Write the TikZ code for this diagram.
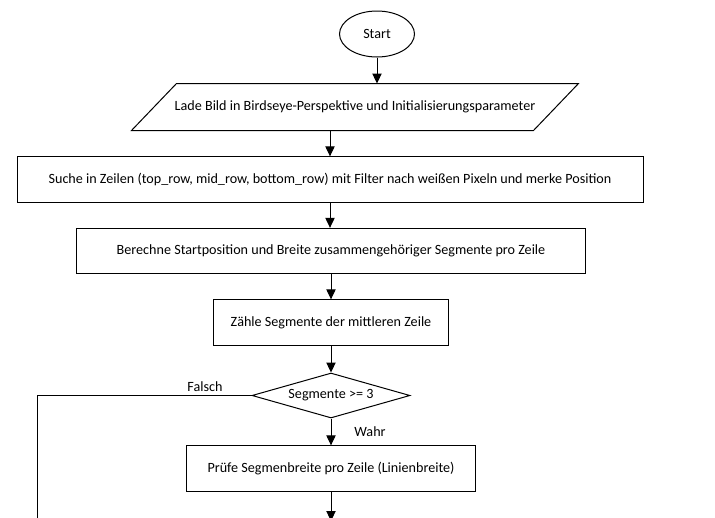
\documentclass[tikz,border=0pt]{standalone}
\usepackage{fontspec}
\setmainfont{Carlito}
\usetikzlibrary{shapes.geometric,arrows.meta}

\begin{document}
\begin{tikzpicture}[x=0.75pt,y=-0.75pt,
	font=\fontsize{10.6}{12}\selectfont,
	kasten/.style={draw, line width=0.75pt, minimum height=34pt},
	pfeil/.style={line width=0.75pt, -{Triangle[width=7pt,length=7.5pt]}}]
	\useasboundingbox (0,0) rectangle (715,518);
	\node[kasten, ellipse, minimum width=56.25pt, minimum height=34.5pt] (start) at (377,34) {Start};
	\node[kasten, draw=none, minimum width=300.75pt, minimum height=34.5pt] (lade) at (355,107) {Lade Bild in Birdseye-Perspektive und Initialisierungsparameter};
	\draw[line width=0.75pt] ([xshift=16.875pt]lade.north west) -- ([xshift=16.875pt]lade.north east)
		-- ([xshift=-16.875pt]lade.south east) -- ([xshift=-16.875pt]lade.south west) -- cycle;
	\node[kasten, minimum width=469.5pt] (suche) at (330,179.5) {Suche in Zeilen (top\_row, mid\_row, bottom\_row) mit Filter nach weißen Pixeln und merke Position};
	\node[kasten, minimum width=381.75pt] (berechne) at (331,251) {Berechne Startposition und Breite zusammengehöriger Segmente pro Zeile};
	\node[kasten, minimum width=176.25pt] (zaehle) at (331,322.5) {Zähle Segmente der mittleren Zeile};
	\node[kasten, diamond, aspect=3.5, inner sep=0pt, minimum width=118.5pt, minimum height=33.75pt] (test) at (331,395.5) {Segmente >= 3};
	\node[kasten, minimum width=216.75pt] (pruefe) at (331,468.5) {Prüfe Segmenbreite pro Zeile (Linienbreite)};
	\node (falsch) at (205,387) {Falsch};
	\node (wahr) at (370,432) {Wahr};
	\coordinate (falschecke) at (37,395.5);
	\coordinate (falschende) at (37,525);
	\coordinate (weiter) at (331,521);
	% Verbindungen
	\draw[pfeil] (start) -- (start |- lade.north);
	\draw[pfeil] (lade.south -| suche.north) -- (suche.north);
	\draw[pfeil] (suche) -- (suche |- berechne.north);
	\draw[pfeil] (berechne) -- (zaehle);
	\draw[pfeil] (zaehle) -- (test);
	\draw[pfeil] (test) -- (pruefe);
	\draw[pfeil] (pruefe) -- (weiter);
	\draw[line width=0.75pt] (test.west) -- (falschecke) -- (falschende);
\end{tikzpicture}
\end{document}
